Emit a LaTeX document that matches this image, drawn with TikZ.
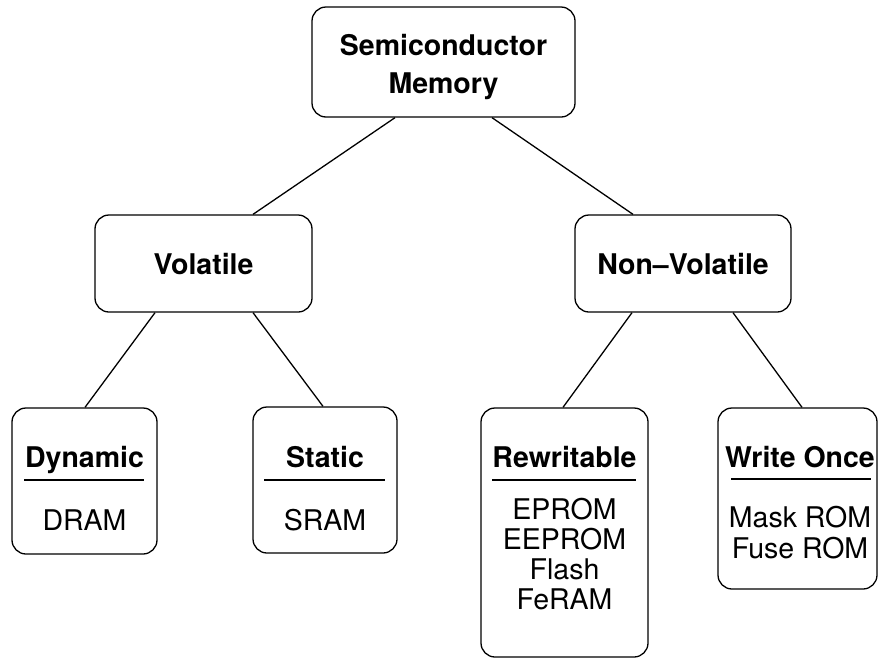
\documentclass[tikz,border=0pt]{standalone}
\usepackage{fontspec}
\setmainfont{TeX Gyre Heros}
\begin{document}
\begin{tikzpicture}[x=1pt,y=-1pt,
  box/.style={draw, line width=1.3pt, rounded corners=14pt, inner sep=0pt},
  txt/.style={inner sep=0pt, anchor=base, font=\fontsize{28.5}{34}\selectfont},
  ttl/.style={inner sep=0pt, anchor=base, font=\fontsize{28.5}{34}\selectfont\bfseries},
  conn/.style={line width=1.3pt},
  rule/.style={line width=1.3pt},
]
\useasboundingbox (0,0) rectangle (878,662);

% boxes
\node[box, minimum width=263pt, minimum height=110pt] (top) at (443.5,62) {};
\node[box, minimum width=217pt, minimum height=97pt] (vol) at (203.5,263.5) {};
\node[box, minimum width=216pt, minimum height=97pt] (nvol) at (683,263.5) {};
\node[box, minimum width=145pt, minimum height=146pt] (dyn) at (84.5,481) {};
\node[box, minimum width=144pt, minimum height=146pt] (stat) at (325,480) {};
\node[box, minimum width=167pt, minimum height=249pt] (rew) at (564.5,532.5) {};
\node[box, minimum width=159pt, minimum height=181pt] (wo) at (797.5,498.5) {};

% texts
\node[ttl] (topa) at (443.5,55) {Semiconductor};
\node[ttl] (topb) at (443.5,93) {Memory};
\node[ttl] (volt) at (203.5,274) {Volatile};
\node[ttl] (nvolt) at (683,274) {Non--Volatile};

\node[ttl] (dynt) at (84.5,467) {Dynamic};
\node[txt] (dyni) at (84.5,530) {DRAM};
\node[ttl] (statt) at (325,467) {Static};
\node[txt] (stati) at (325,530) {SRAM};
\node[ttl] (rewt) at (564.5,467) {Rewritable};
\node[txt] (rew1) at (564.5,519) {EPROM};
\node[txt] (rew2) at (564.5,549) {EEPROM};
\node[txt] (rew3) at (564.5,579) {Flash};
\node[txt] (rew4) at (564.5,609) {FeRAM};
\node[ttl] (wot) at (800,467) {Write Once};
\node[txt] (wo1) at (800,527) {Mask ROM};
\node[txt] (wo2) at (800,558) {Fuse ROM};

% underlines
\draw[rule] (24,480) -- (144,480);
\draw[rule] (264,480) -- (385,480);
\draw[rule] (492,480) -- (636,480);
\draw[rule] (731,479) -- (871,479);

% connectors
\draw[conn] ([xshift=-48.5pt]top.south) -- ([xshift=49.5pt]vol.north);
\draw[conn] ([xshift=48.5pt]top.south) -- ([xshift=-50pt]nvol.north);
\draw[conn] ([xshift=-48.5pt]vol.south) -- ([xshift=0.5pt]dyn.north);
\draw[conn] ([xshift=49.5pt]vol.south) -- ([xshift=-2pt]stat.north);
\draw[conn] ([xshift=-51pt]nvol.south) -- ([xshift=-1.5pt]rew.north);
\draw[conn] ([xshift=50pt]nvol.south) -- ([xshift=4.5pt]wo.north);
\end{tikzpicture}
\end{document}
